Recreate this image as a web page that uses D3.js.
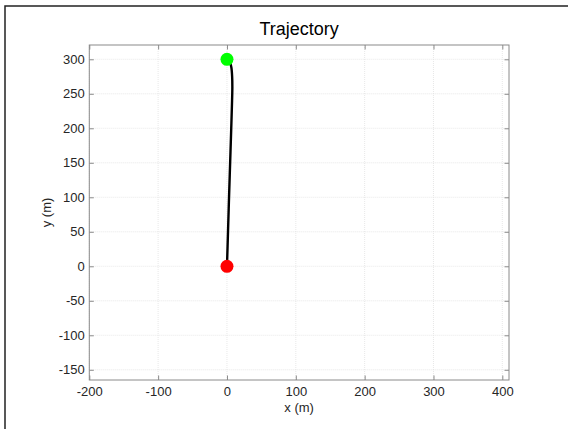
<!DOCTYPE html>
<html>
<head>
<meta charset="utf-8">
<script src="https://cdn.jsdelivr.net/npm/d3@7"></script>
<style>
  html, body { margin: 0; padding: 0; background: #fff; }
  svg { display: block; font-family: "Liberation Sans", Arial, Helvetica, sans-serif; }
</style>
</head>
<body>
<svg id="chart" width="568" height="429"></svg>
<script>
// Path of the vehicle, in metres
const trackX = [0, 1.5, 3.0, 4.6, 6.2, 7.4, 7.8, 7.5, 6.4, 4.6, 2.2, 0];
const trackY = [0, 50, 100, 150, 200, 240, 260, 275, 288, 295, 298.6, 300];
const startPoint = [0, 0];
const endPoint = [0, 300];
const xTicks = [-200, -100, 0, 100, 200, 300, 400];
const yTicks = [-150, -100, -50, 0, 50, 100, 150, 200, 250, 300];
const xDomain = [-200, 409.7];
const yDomain = [-164.8, 320.7];

const svg = d3.select("#chart");
const W = 568, H = 429;
const plot = { left: 89.3, right: 509, top: 45, bottom: 380 };

const x = d3.scaleLinear().domain(xDomain).range([plot.left, plot.right]);
const y = d3.scaleLinear().domain(yDomain).range([plot.bottom, plot.top]);

// window frame edges
svg.append("path")
  .attr("d", `M5,${H} L5,6 L${W},6`)
  .attr("fill", "none").attr("stroke", "#222").attr("stroke-width", 1.5);

// grid
const grid = svg.append("g").attr("stroke", "#e2e2e2").attr("stroke-width", 0.8)
  .attr("stroke-dasharray", "1,1");
grid.selectAll(".gx").data(xTicks).join("line")
  .attr("x1", d => x(d)).attr("x2", d => x(d))
  .attr("y1", plot.top).attr("y2", plot.bottom);
grid.selectAll(".gy").data(yTicks).join("line")
  .attr("x1", plot.left).attr("x2", plot.right)
  .attr("y1", d => y(d)).attr("y2", d => y(d));

// axes with inward ticks on all four sides
const tickLen = 4.5;
const axisColor = "#8a8a8a";
const fmt = d => String(d);
function styleAxis(g) {
  g.select(".domain").remove();
  g.selectAll(".tick line").attr("stroke", axisColor).attr("stroke-width", 1);
  g.selectAll(".tick text").attr("fill", "#262626").attr("font-size", 13)
    .attr("font-family", "Liberation Sans, Arial, sans-serif");
}
svg.append("g").attr("transform", `translate(0,${plot.bottom})`)
  .call(d3.axisBottom(x).tickValues(xTicks).tickFormat(fmt).tickSizeInner(-tickLen).tickSizeOuter(0).tickPadding(7))
  .call(styleAxis);
svg.append("g").attr("transform", `translate(0,${plot.top})`)
  .call(d3.axisTop(x).tickValues(xTicks).tickFormat("").tickSizeInner(-tickLen).tickSizeOuter(0))
  .call(styleAxis);
svg.append("g").attr("transform", `translate(${plot.left},0)`)
  .call(d3.axisLeft(y).tickValues(yTicks).tickFormat(fmt).tickSizeInner(-tickLen).tickSizeOuter(0).tickPadding(4.5))
  .call(styleAxis);
svg.append("g").attr("transform", `translate(${plot.right},0)`)
  .call(d3.axisRight(y).tickValues(yTicks).tickFormat("").tickSizeInner(-tickLen).tickSizeOuter(0))
  .call(styleAxis);

// axes box
svg.append("rect")
  .attr("x", plot.left).attr("y", plot.top)
  .attr("width", plot.right - plot.left).attr("height", plot.bottom - plot.top)
  .attr("fill", "none").attr("stroke", axisColor).attr("stroke-width", 1);

// trajectory
const pts = trackX.map((v, i) => [v, trackY[i]]);
svg.append("path")
  .datum(pts)
  .attr("d", d3.line().x(d => x(d[0])).y(d => y(d[1])).curve(d3.curveCatmullRom))
  .attr("fill", "none").attr("stroke", "#000").attr("stroke-width", 2.4);

// start and end markers
svg.append("circle").attr("cx", x(startPoint[0])).attr("cy", y(startPoint[1]))
  .attr("r", 6.5).attr("fill", "#ff0000");
svg.append("circle").attr("cx", x(endPoint[0])).attr("cy", y(endPoint[1]))
  .attr("r", 6.5).attr("fill", "#00ff00");

// labels
svg.append("text").attr("x", (plot.left + plot.right) / 2).attr("y", 35)
  .attr("text-anchor", "middle").attr("font-size", 18).attr("fill", "#000")
  .text("Trajectory");
svg.append("text").attr("x", (plot.left + plot.right) / 2).attr("y", 412)
  .attr("text-anchor", "middle").attr("font-size", 13).attr("fill", "#262626")
  .text("x (m)");
svg.append("text")
  .attr("transform", `translate(51,${(plot.top + plot.bottom) / 2}) rotate(-90)`)
  .attr("text-anchor", "middle").attr("font-size", 13).attr("fill", "#262626")
  .text("y (m)");
</script>
</body>
</html>
